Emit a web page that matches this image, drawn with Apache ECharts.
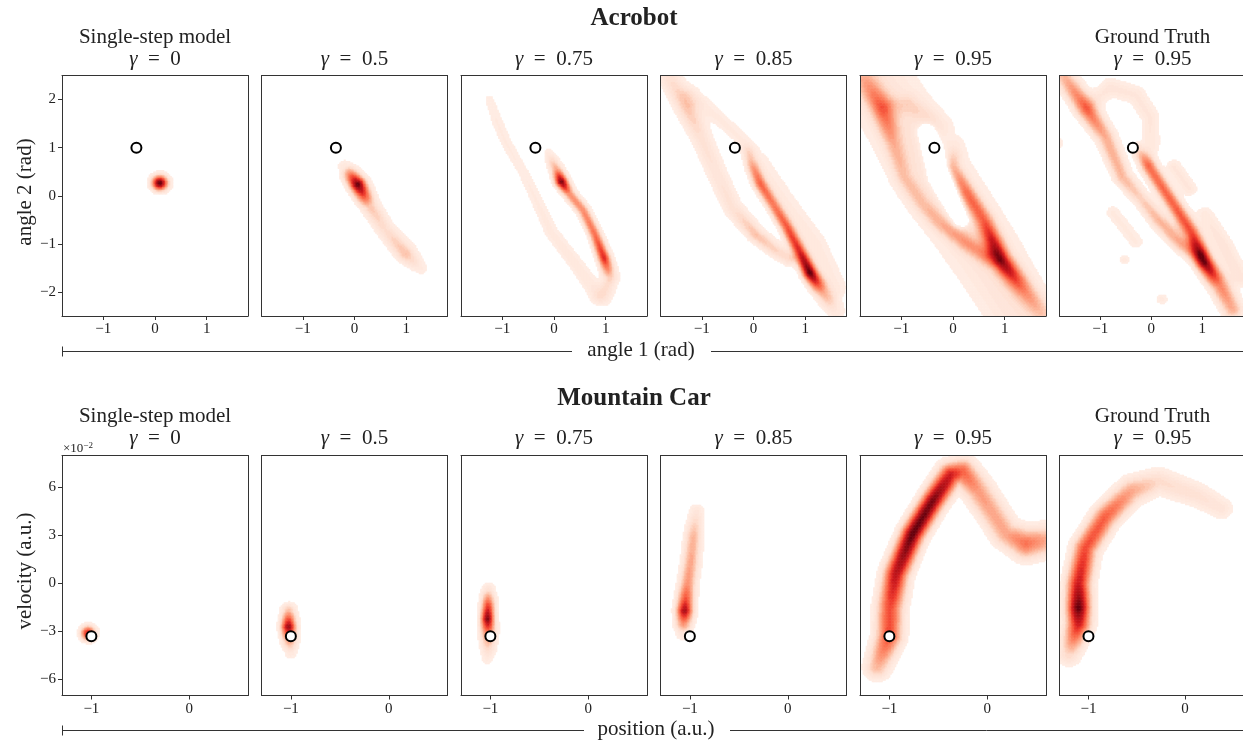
<!DOCTYPE html>
<html><head><meta charset="utf-8">
<script src="https://cdn.jsdelivr.net/npm/echarts@6/dist/echarts.min.js"></script>
<style>html,body{margin:0;padding:0;background:#fff}#c{width:1243px;height:742px}</style>
</head><body><div id="c"></div>
<script>
// ================= DATA =================
const rowTitles = ['Acrobot', 'Mountain Car'];
const colTitles = ['Single-step model', '', '', '', '', 'Ground Truth'];
const gammaLabels = ['0', '0.5', '0.75', '0.85', '0.95', '0.95'];
const rowXNames = ['angle 1 (rad)', 'position (a.u.)'];
const rowYNames = ['angle 2 (rad)', 'velocity (a.u.)'];

const acrobotXRange = [-1.8, 1.8];
const acrobotYRange = [-2.5, 2.5];
const mcarXRange = [-1.3, 0.6];
const mcarYRange = [-0.07, 0.08];

const acrobotXTicks = [-1, 0, 1];
const acrobotYTicks = [-2, -1, 0, 1, 2];
const mcarXTicks = [-1, 0];
const mcarYTicks = [-0.06, -0.03, 0, 0.03, 0.06];

// start states (open circles)
const acrobotStart = [[-0.36, 1.0]];
const mcarStart = [[-1.0, -0.033]];

// KDE bandwidth (x, y) per environment
const acrobotBw = [0.1, 0.1];
const mcarBw = [0.05, 0.003];

// Density ridges: each ridge is a list of nodes [x, y, width(bw units), density]
// (a negative density marks an empty hole inside a band)
const acrobotG0 = [
  [[0.1, 0.27, 1.0, 1.0]]
];
const acrobotG05 = [
  [[-0.18, 0.6, 1.0, 0.1], [0.07, 0.24, 1.05, 1.0], [0.3, -0.2, 1.1, 0.26], [0.6, -0.7, 1.15, 0.17], [1.0, -1.2, 1.2, 0.27], [1.28, -1.5, 1.0, 0.08]]
];
const acrobotG075 = [
  [[-0.1, 0.88, 0.75, 0.08], [0.05, 0.55, 0.8, 0.35], [0.15, 0.3, 0.8, 0.95], [0.3, 0.05, 0.75, 0.42], [0.57, -0.3, 0.75, 0.42], [0.8, -0.8, 0.75, 0.5], [0.98, -1.3, 0.8, 0.7], [1.1, -1.7, 0.95, 0.22], [0.95, -2.1, 1.2, 0.11]],
  [[-1.25, 2.0, 0.8, 0.06], [-1.1, 1.55, 0.85, 0.075], [-0.92, 1.1, 0.85, 0.075], [-0.6, 0.5, 0.85, 0.07], [-0.4, 0.05, 0.9, 0.075], [-0.05, -0.75, 1.0, 0.085], [0.45, -1.45, 1.0, 0.1], [0.85, -2.05, 1.2, 0.1]]
];
const acrobotG085 = [
  [[-0.12, 0.95, 0.8, 0.1], [0.0, 0.6, 0.85, 0.35], [0.13, 0.27, 0.85, 0.52], [0.4, -0.2, 0.85, 0.45], [0.65, -0.64, 0.85, 0.55], [0.9, -1.15, 0.9, 0.7], [1.1, -1.6, 0.95, 1.0], [1.35, -2.0, 1.1, 0.33], [1.6, -2.4, 1.2, 0.1]],
  [[-1.7, 2.6, 1.4, 0.13], [-1.28, 1.85, 1.4, 0.26], [-1.0, 1.2, 1.3, 0.15], [-0.7, 0.45, 1.3, 0.13], [-0.4, -0.25, 1.2, 0.15], [0.05, -0.8, 1.0, 0.27], [0.4, -1.1, 1.0, 0.21], [0.7, -1.3, 1.0, 0.18]],
  [[-1.2, 2.1, 1.2, 0.09], [-0.7, 1.65, 1.1, 0.08], [-0.3, 1.25, 1.0, 0.08], [-0.05, 0.95, 1.0, 0.09]],
  [[0.15, 0.7, 1.5, 0.065], [0.6, -0.1, 1.6, 0.08], [1.2, -1.0, 1.6, 0.09], [1.6, -1.9, 1.6, 0.08]]
];
const acrobotG095 = [
  [[-1.75, 2.9, 4.5, 0.13], [-0.37, 0.4, 4.8, 0.14], [0.7, -1.33, 4.5, 0.14], [1.5, -2.8, 4.0, 0.13]],
  [[-0.52, 1.32, 1.0, -0.5], [-0.24, 0.39, 1.3, -0.7], [0.15, -0.5, 1.0, -0.5]],
  [[-1.85, 2.65, 1.6, 0.14], [-1.37, 1.84, 1.5, 0.45], [-1.15, 1.1, 1.3, 0.23], [-0.94, 0.39, 1.2, 0.2], [-0.6, -0.15, 1.2, 0.2], [-0.26, -0.55, 1.2, 0.23], [0.3, -1.0, 1.2, 0.28], [0.65, -1.25, 1.2, 0.25]],
  [[-1.37, 1.84, 1.5, 0.02], [-0.85, 1.9, 1.5, 0.12], [-0.45, 1.65, 1.3, 0.1], [-0.2, 1.45, 1.2, 0.06]],
  [[0.05, 1.05, 1.0, 0.05], [0.0, 0.6, 1.0, 0.25], [0.28, 0.06, 1.1, 0.42], [0.6, -0.5, 1.2, 0.45], [0.93, -1.33, 1.3, 0.83], [1.42, -2.01, 1.4, 0.33], [1.75, -2.45, 1.4, 0.18]]
];
const acrobotTruth = [
  [[-1.75, 2.55, 1.3, 0.28], [-1.27, 1.82, 1.3, 0.52], [-0.89, 1.23, 1.2, 0.33], [-0.56, 0.4, 1.1, 0.3], [-0.2, -0.05, 1.0, 0.22], [0.15, -0.5, 1.1, 0.3], [0.6, -1.0, 1.1, 0.33], [0.9, -1.25, 1.1, 0.22]],
  [[-0.25, 0.95, 0.9, 0.18], [-0.04, 0.61, 1.0, 0.5], [0.47, -0.22, 1.0, 0.55], [0.8, -0.77, 1.1, 0.6], [1.06, -1.39, 1.15, 0.95], [1.35, -1.85, 1.3, 0.45], [1.6, -2.35, 1.3, 0.33]],
  [[-1.2, 1.9, 1.2, 0.08], [-0.8, 2.25, 1.3, 0.12], [-0.3, 2.1, 1.3, 0.11], [-0.02, 1.65, 1.2, 0.11], [0.0, 1.1, 1.2, 0.1], [-0.04, 0.75, 1.0, 0.08]],
  [[0.45, 0.6, 1.0, 0.11], [0.75, 0.15, 1.0, 0.11]],
  [[1.06, -0.4, 1.2, 0.09], [1.4, -1.0, 1.2, 0.13], [1.75, -1.7, 1.2, 0.13]],
  [[-0.52, -1.33, 0.7, 0.09]],
  [[0.21, -2.15, 0.8, 0.085]],
  [[-1.85, 1.09, 0.8, 0.11]],
  [[-0.75, -0.35, 1.0, 0.08], [-0.3, -0.95, 1.0, 0.08]]
];

const mcarG0 = [
  [[-1.03, -0.031, 0.95, 0.75]]
];
const mcarG05 = [
  [[-1.02, -0.017, 0.95, 0.28], [-1.02, -0.027, 1.0, 0.9], [-1.01, -0.036, 1.0, 0.35], [-1.0, -0.043, 0.9, 0.1]]
];
const mcarG075 = [
  [[-1.02, -0.004, 0.9, 0.15], [-1.02, -0.013, 0.9, 0.6], [-1.025, -0.022, 0.9, 0.95], [-1.02, -0.03, 1.0, 0.5], [-1.02, -0.04, 1.0, 0.2], [-1.03, -0.047, 0.9, 0.08]]
];
const mcarG085 = [
  [[-0.93, 0.045, 1.0, 0.12], [-0.96, 0.03, 1.1, 0.3], [-0.99, 0.012, 1.1, 0.35], [-1.02, 0.0, 1.1, 0.4], [-1.04, -0.01, 1.1, 0.6], [-1.05, -0.017, 1.1, 0.85], [-1.06, -0.025, 1.1, 0.4], [-1.07, -0.031, 1.0, 0.12]]
];
const mcarG095 = [
  [[-1.12, -0.052, 1.6, 0.3], [-1.0, -0.033, 1.7, 0.6], [-0.99, -0.015, 1.7, 0.6], [-0.93, 0.006, 1.6, 0.8], [-0.76, 0.031, 1.5, 1.0], [-0.55, 0.052, 1.5, 0.95], [-0.37, 0.068, 1.6, 0.75], [-0.25, 0.07, 1.7, 0.55], [-0.09, 0.058, 1.8, 0.38], [0.06, 0.044, 1.8, 0.35], [0.2, 0.031, 1.8, 0.35], [0.4, 0.025, 2.0, 0.5], [0.6, 0.027, 2.0, 0.35]]
];
const mcarTruth = [
  [[-1.2, -0.044, 1.5, 0.2], [-1.1, -0.025, 1.6, 0.75], [-1.1, -0.015, 1.6, 1.0], [-1.1, 0.0, 1.6, 0.75], [-1.03, 0.022, 1.6, 0.6], [-0.82, 0.042, 1.6, 0.55], [-0.55, 0.058, 1.7, 0.35], [-0.27, 0.064, 1.7, 0.18], [0.14, 0.055, 1.6, 0.15], [0.38, 0.047, 1.5, 0.12]]
];

const acrobotPanels = [acrobotG0, acrobotG05, acrobotG075, acrobotG085, acrobotG095, acrobotTruth];
const mcarPanels = [mcarG0, mcarG05, mcarG075, mcarG085, mcarG095, mcarTruth];

// ================= LAYOUT / STYLE =================
const FONT = "'Liberation Serif', 'DejaVu Serif', serif";
const INK = '#222';
const SPINE = '#333';
const THRESH = 0.04;
const REDS = ['#ffece3', '#fee0d2', '#fcbba1', '#fc9272', '#fb6a4a', '#ef3b2c', '#cb181d', '#a50f15', '#67000d'];
const colLefts = [62, 261.5, 461, 660.5, 860, 1059.5];
const panelW = 186;
const rowTops = [75.5, 455.5];
const panelH = [240.5, 240];
const NX = 124, NY = 160;

function field(strokes, bw, x, y) {
  let total = 0;
  const px = x / bw[0], py = y / bw[1];
  for (const s of strokes) {
    let best = 0;
    if (s.length === 1) {
      const [cx, cy, w, a] = s[0];
      const dx = px - cx / bw[0], dy = py - cy / bw[1];
      best = a * Math.exp(-(dx * dx + dy * dy) / (2 * w * w));
    }
    for (let k = 0; k < s.length - 1; k++) {
      const [x0, y0, w0, a0] = s[k], [x1, y1, w1, a1] = s[k + 1];
      const ax = x0 / bw[0], ay = y0 / bw[1], bx = x1 / bw[0], by = y1 / bw[1];
      const vx = bx - ax, vy = by - ay, L2 = vx * vx + vy * vy;
      let t = L2 > 0 ? ((px - ax) * vx + (py - ay) * vy) / L2 : 0;
      t = Math.max(0, Math.min(1, t));
      const qx = ax + t * vx - px, qy = ay + t * vy - py;
      const w = w0 + (w1 - w0) * t, a = a0 + (a1 - a0) * t;
      const v = a * Math.exp(-(qx * qx + qy * qy) / (2 * w * w));
      if (Math.abs(v) > Math.abs(best)) best = v;
    }
    total += best;
  }
  return Math.max(0, Math.min(total, 1));
}

function buildCells(strokes, xr, yr, bw) {
  const dx = (xr[1] - xr[0]) / NX, dy = (yr[1] - yr[0]) / NY;
  const out = [];
  for (let i = 0; i < NX; i++) {
    for (let j = 0; j < NY; j++) {
      const x = xr[0] + (i + 0.5) * dx, y = yr[0] + (j + 0.5) * dy;
      const v = field(strokes, bw, x, y);
      if (v >= THRESH) out.push([x, y, v]);
    }
  }
  return { data: out, dx, dy };
}

const fmtSigned = v => (v < 0 ? '\u2212' : '') + Math.abs(v);
const rows = [
  { panels: acrobotPanels, xr: acrobotXRange, yr: acrobotYRange, xt: acrobotXTicks, yt: acrobotYTicks, bw: acrobotBw, start: acrobotStart, yfmt: v => fmtSigned(v) },
  { panels: mcarPanels, xr: mcarXRange, yr: mcarYRange, xt: mcarXTicks, yt: mcarYTicks, bw: mcarBw, start: mcarStart, yfmt: v => fmtSigned(Math.round(v * 100)) }
];

const grid = [], xAxis = [], yAxis = [], series = [], heatIdx = [];
rows.forEach((row, r) => {
  row.panels.forEach((strokes, c) => {
    const g = grid.length;
    grid.push({ left: colLefts[c], top: rowTops[r], width: panelW, height: panelH[r], show: false });
    const axLine = { show: true, onZero: false, lineStyle: { color: SPINE, width: 1 } };
    xAxis.push({
      type: 'value', gridIndex: g, min: row.xr[0], max: row.xr[1], position: 'bottom', z: 10,
      axisLine: axLine, splitLine: { show: false },
      axisTick: { show: true, length: 4, lineStyle: { color: SPINE }, customValues: row.xt },
      axisLabel: { show: true, customValues: row.xt, formatter: fmtSigned, fontFamily: FONT, fontSize: 15, color: INK, margin: 6 }
    });
    xAxis.push({
      type: 'value', gridIndex: g, min: row.xr[0], max: row.xr[1], position: 'top', z: 10,
      axisLine: axLine, splitLine: { show: false }, axisTick: { show: false }, axisLabel: { show: false }
    });
    yAxis.push({
      type: 'value', gridIndex: g, min: row.yr[0], max: row.yr[1], position: 'left', z: 10,
      axisLine: axLine, splitLine: { show: false },
      axisTick: { show: c === 0, length: 4, lineStyle: { color: SPINE }, customValues: row.yt },
      axisLabel: { show: c === 0, customValues: row.yt, formatter: row.yfmt, fontFamily: FONT, fontSize: 15, color: INK, margin: 6 }
    });
    yAxis.push({
      type: 'value', gridIndex: g, min: row.yr[0], max: row.yr[1], position: 'right', z: 10,
      axisLine: axLine, splitLine: { show: false }, axisTick: { show: false }, axisLabel: { show: false }
    });
    const cells = buildCells(strokes, row.xr, row.yr, row.bw);
    heatIdx.push(series.length);
    series.push({
      type: 'custom', xAxisIndex: 2 * g, yAxisIndex: 2 * g, data: cells.data, clip: true, z: 1,
      encode: { x: 0, y: 1 }, silent: true, animation: false, progressive: 0,
      renderItem: (params, api) => {
        const p = api.coord([api.value(0), api.value(1)]);
        const s = api.size([cells.dx, cells.dy]);
        return { type: 'rect', shape: { x: p[0] - s[0] / 2 - 0.3, y: p[1] - s[1] / 2 - 0.3, width: s[0] + 0.6, height: s[1] + 0.6 },
          style: { fill: api.visual('color') } };
      }
    });
    series.push({
      type: 'scatter', xAxisIndex: 2 * g, yAxisIndex: 2 * g, data: row.start, z: 5, symbolSize: 10,
      itemStyle: { color: '#fff', borderColor: '#000', borderWidth: 2, opacity: 1 }, silent: true, animation: false
    });
  });
});

// ---------- texts ----------
const graphic = [];
const txt = (x, y, text, size, extra) => Object.assign({
  type: 'text', x, y, silent: true,
  style: Object.assign({ text, fontFamily: FONT, fontSize: size, fill: INK, align: 'center', verticalAlign: 'middle' }, extra || {})
});
graphic.push(txt(634, 19, rowTitles[0], 25, { fontWeight: 'bold' }));
graphic.push(txt(634, 399, rowTitles[1], 25, { fontWeight: 'bold' }));
const titleY = [[37, 59], [416, 438]];
[0, 1].forEach(r => {
  colLefts.forEach((L, c) => {
    const cx = L + panelW / 2;
    if (colTitles[c]) graphic.push(txt(cx, titleY[r][0], colTitles[c], 21));
    graphic.push({ type: 'text', x: cx, y: titleY[r][1], silent: true, style: {
      text: '{g|\u03b3}\u2002=\u2002' + gammaLabels[c], fontFamily: FONT, fontSize: 21, fill: INK, align: 'center', verticalAlign: 'middle',
      rich: { g: { fontFamily: FONT, fontSize: 21, fontStyle: 'italic', fill: INK } } } });
  });
});
graphic.push({ type: 'text', x: 63, y: 449, silent: true, style: { text: '\u00d710{s|\u22122}', fontFamily: FONT, fontSize: 13, fill: INK, align: 'left', verticalAlign: 'middle',
  rich: { s: { fontFamily: FONT, fontSize: 9, fill: INK, verticalAlign: 'top', padding: [0, 0, 7, 0] } } } });
const yn1 = txt(25, 192, rowYNames[0], 21); yn1.rotation = Math.PI / 2; graphic.push(yn1);
const yn2 = txt(25, 571, rowYNames[1], 21); yn2.rotation = Math.PI / 2; graphic.push(yn2);
graphic.push(txt(641, 350, rowXNames[0], 21));
graphic.push(txt(656, 729, rowXNames[1], 21));
const hline = (x1, x2, y) => ({ type: 'line', silent: true, shape: { x1, y1: y, x2, y2: y }, style: { stroke: SPINE, lineWidth: 1 } });
const vline = (x, y1, y2) => ({ type: 'line', silent: true, shape: { x1: x, y1, x2: x, y2 }, style: { stroke: SPINE, lineWidth: 1 } });
graphic.push(hline(62, 572, 351.5), hline(711, 1243, 351.5), vline(62.5, 346.5, 356.5));
graphic.push(hline(62, 584, 730.5), hline(730, 1243, 730.5), vline(62.5, 725.5, 735.5));

const chart = echarts.init(document.getElementById('c'), null, { renderer: 'canvas' });
chart.setOption({
  animation: false,
  backgroundColor: '#fff',
  grid, xAxis, yAxis, series, graphic,
  visualMap: [{
    type: 'piecewise', show: false, min: THRESH, max: 1, splitNumber: 30, dimension: 2,
    seriesIndex: heatIdx, inRange: { color: REDS }
  }]
});
</script></body></html>
